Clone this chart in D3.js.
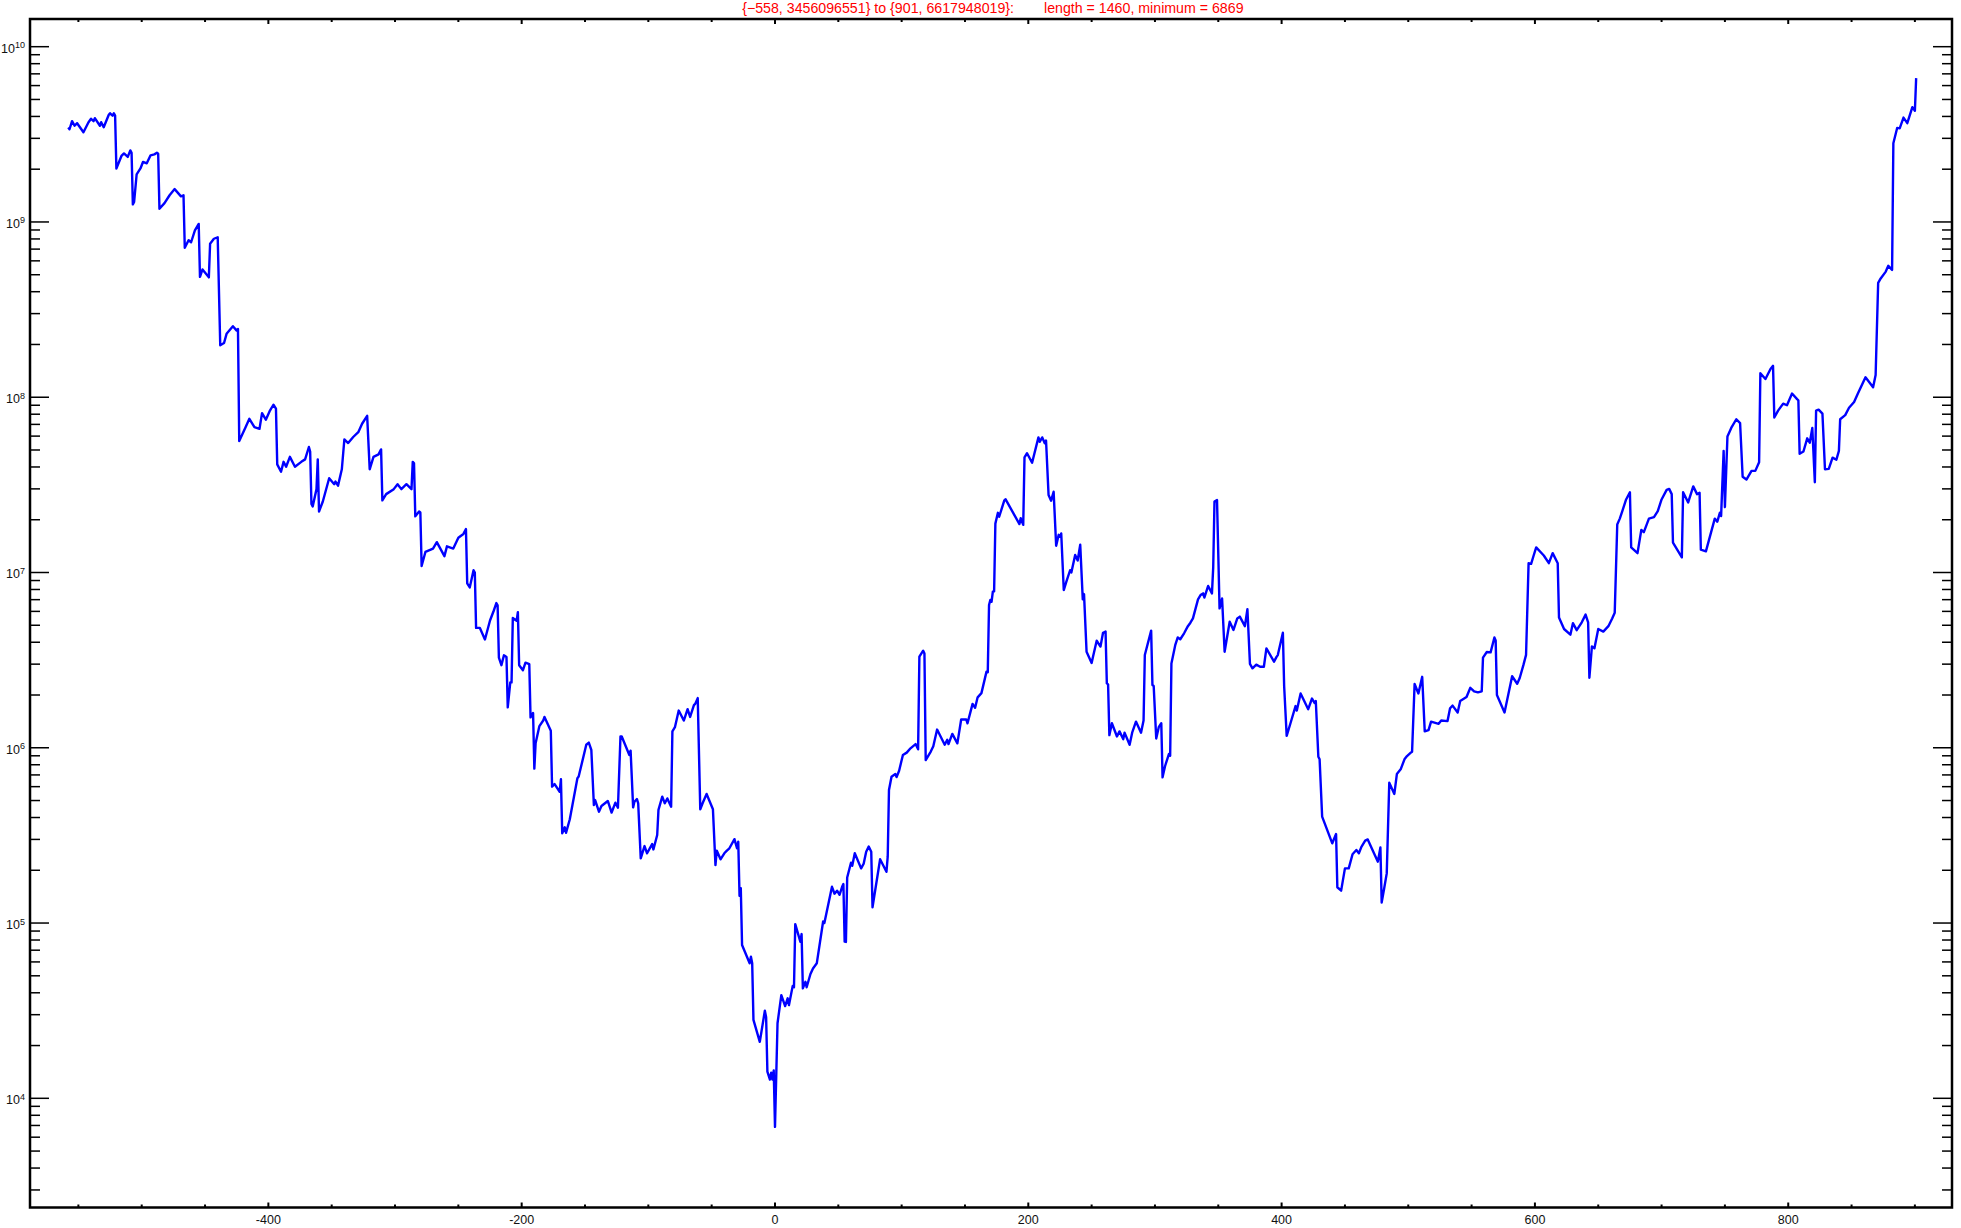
<!DOCTYPE html>
<html>
<head>
<meta charset="utf-8">
<script src="https://cdn.jsdelivr.net/npm/d3@7"></script>
<style>
  html, body { margin: 0; padding: 0; background: #fff; }
  svg { display: block; }
  text { font-family: "Liberation Sans", Arial, sans-serif; }
</style>
</head>
<body>
<script>
// ---- data ----
const indices = [
-558,-557,-555,-553,-551,-546,-542,-540,-538,-537,-533,-532,-530,-526,-525,-523,-522,-521,-520,-516,-514,-511,-509,-508,-507,-506,-504,-501,-499,-496,-493,-490,-488,-487,-486,-482,-478,-474,-469,-467,-466,-463,-461,-458,-455,-454,-452,-447,-446,-443,-440,-438,-435,-433,-428,-425,-424,-423,-418,-415,-411,-407,-405,-402,-399,-396,-394,-393,-390,-388,-386,-383,-379,-374,-371,-368,-367,-366,-365,-362,-361,-360,-357,-352,-348,-347,-345,-342,-340,-337,-333,-329,-326,-322,-320,-317,-313,-311,-310,-307,-301,-298,-295,-291,-287,-286,-285,-284,-281,-280,-279,-276,-270,-267,-261,-259,-254,-250,-246,-244,-243,-241,-238,-237,-236,-233,-229,-225,-222,-220,-219,-218,-216,-214,-212,-211,-209,-208,-207,-204,-203,-202,-199,-197,-194,-193,-191,-190,-189,-186,-183,-182,-177,-176,-174,-170,-169,-168,-166,-165,-162,-156,-155,-149,-147,-145,-143,-142,-139,-137,-132,-129,-126,-124,-122,-121,-115,-114,-112,-111,-109,-108,-106,-103,-101,-97,-96,-93,-92,-89,-87,-85,-82,-81,-79,-76,-72,-69,-67,-64,-63,-61,-59,-57,-54,-49,-47,-46,-43,-40,-38,-36,-32,-30,-29,-28,-27,-26,-20,-19,-18,-17,-12,-8,-7,-6,-4,-3,-2,-1,0,2,5,8,10,11,14,15,16,20,21,22,24,25,28,30,33,38,39,44,45,47,49,51,53,54,55,56,57,60,61,63,68,70,72,74,76,77,83,88,89,90,92,95,96,98,101,104,107,111,113,114,117,118,119,123,125,128,134,136,137,140,144,147,151,152,156,158,160,163,167,168,169,170,171,172,173,174,176,177,181,182,193,194,196,197,199,203,208,209,211,213,214,216,218,220,222,224,225,226,228,230,233,234,237,239,241,243,244,246,250,251,254,257,259,261,262,263,264,266,270,272,275,276,280,282,285,289,291,292,297,298,299,301,303,305,306,308,311,312,313,316,318,320,323,326,328,330,334,336,338,339,342,345,346,347,349,351,353,355,359,362,365,367,371,373,375,377,380,383,386,388,394,396,397,401,402,404,407,411,412,415,421,424,426,427,429,430,432,440,443,444,447,450,453,456,459,461,463,466,468,476,478,479,481,483,485,489,491,494,497,499,502,503,505,508,511,513,516,518,524,526,531,533,535,539,541,546,549,552,555,558,559,562,565,568,569,570,576,582,586,588,591,593,595,597,599,601,607,611,614,618,619,623,628,630,633,637,640,642,643,645,647,650,654,658,661,663,665,667,669,672,675,676,681,684,686,690,694,697,700,704,706,708,709,716,717,721,725,728,730,731,735,742,744,746,747,749,750,752,755,759,762,764,767,771,774,777,778,782,786,788,789,792,796,799,803,807,808,809,812,815,817,819,821,822,824,827,829,832,835,838,840,841,845,848,852,855,861,867,869,871,873,877,879,882,883,886,888,891,894,898,900,901
];
const values = [
3456096551,3.38e9,3.76e9,3.54e9,3.66e9,3.25e9,3.71e9,3.88e9,3.76e9,3.91e9,3.54e9,3.71e9,3.47e9,4.09e9,4.17e9,4.04e9,4.17e9,4.04e9,2.02e9,2.38e9,2.46e9,2.35e9,2.56e9,2.48e9,1.26e9,1.30e9,1.87e9,2.02e9,2.20e9,2.16e9,2.40e9,2.43e9,2.48e9,2.45e9,1.19e9,1.28e9,1.42e9,1.54e9,1.40e9,1.42e9,7.13e8,7.87e8,7.66e8,8.96e8,9.75e8,4.86e8,5.36e8,4.83e8,7.52e8,8.02e8,8.18e8,1.98e8,2.04e8,2.30e8,2.54e8,2.40e8,2.45e8,5.62e7,6.75e7,7.53e7,6.75e7,6.6e7,8.11e7,7.45e7,8.32e7,9.06e7,8.6e7,4.14e7,3.76e7,4.28e7,4.01e7,4.57e7,4.01e7,4.28e7,4.42e7,5.20e7,4.9e7,2.46e7,2.38e7,2.99e7,4.42e7,2.23e7,2.54e7,3.45e7,3.19e7,3.3e7,3.13e7,3.88e7,5.74e7,5.48e7,5.93e7,6.32e7,7.06e7,7.83e7,3.88e7,4.57e7,4.72e7,5.04e7,2.58e7,2.80e7,2.99e7,3.19e7,2.99e7,3.19e7,2.99e7,4.28e7,4.2e7,2.09e7,2.23e7,2.2e7,1.09e7,1.31e7,1.37e7,1.49e7,1.24e7,1.41e7,1.37e7,1.58e7,1.66e7,1.77e7,8.67e6,8.22e6,1.03e7,1.0e7,4.83e6,4.83e6,4.15e6,5.32e6,6.07e6,6.69e6,6.5e6,3.27e6,2.96e6,3.37e6,3.3e6,1.70e6,2.36e6,2.36e6,5.50e6,5.3e6,5.94e6,2.96e6,2.77e6,3.06e6,3.0e6,1.49e6,1.58e6,7.6e5,1.06e6,1.33e6,1.43e6,1.50e6,1.25e6,6.0e5,6.21e5,5.61e5,6.61e5,3.25e5,3.52e5,3.27e5,3.91e5,6.70e5,6.85e5,1.04e6,1.07e6,9.71e5,4.71e5,5.03e5,4.32e5,4.65e5,4.97e5,4.27e5,4.86e5,4.55e5,1.16e6,1.16e6,9.10e5,9.63e5,4.57e5,4.92e5,5.10e5,4.82e5,2.34e5,2.75e5,2.50e5,2.82e5,2.63e5,3.18e5,4.42e5,5.26e5,4.82e5,5.14e5,4.61e5,1.24e6,1.31e6,1.63e6,1.43e6,1.66e6,1.50e6,1.75e6,1.78e6,1.92e6,4.46e5,4.86e5,5.45e5,4.46e5,2.14e5,2.59e5,2.31e5,2.50e5,2.59e5,2.67e5,3.01e5,2.67e5,2.91e5,1.43e5,1.58e5,7.5e4,5.89e4,6.43e4,5.9e4,2.80e4,2.10e4,3.16e4,2.9e4,1.42e4,1.28e4,1.40e4,1.28e4,1.44e4,6869,2.68e4,3.88e4,3.36e4,3.72e4,3.4e4,4.38e4,4.3e4,9.86e4,7.83e4,8.65e4,4.24e4,4.62e4,4.3e4,5.12e4,5.51e4,5.89e4,1.02e5,1.0e5,1.49e5,1.61e5,1.47e5,1.53e5,1.45e5,1.61e5,1.67e5,7.83e4,7.8e4,1.82e5,2.21e5,2.12e5,2.50e5,2.05e5,2.18e5,2.55e5,2.73e5,2.55e5,1.23e5,2.31e5,1.96e5,2.39e5,5.74e5,6.84e5,7.08e5,6.8e5,7.40e5,9.10e5,9.38e5,9.93e5,1.05e6,9.80e5,3.31e6,3.58e6,3.45e6,8.51e5,9.51e5,1.02e6,1.27e6,1.04e6,1.11e6,1.05e6,1.20e6,1.06e6,1.45e6,1.45e6,1.38e6,1.78e6,1.69e6,1.94e6,2.05e6,2.72e6,2.7e6,6.52e6,6.97e6,6.8e6,7.77e6,7.8e6,1.90e7,2.19e7,2.08e7,2.57e7,2.62e7,1.89e7,2.04e7,1.87e7,4.54e7,4.79e7,4.23e7,5.90e7,5.57e7,5.90e7,5.46e7,5.66e7,2.77e7,2.57e7,2.89e7,1.42e7,1.64e7,1.6e7,1.67e7,7.94e6,8.85e6,1.03e7,1.0e7,1.26e7,1.17e7,1.44e7,7.03e6,7.53e6,3.53e6,3.05e6,3.28e6,4.08e6,3.78e6,4.53e6,4.6e6,2.33e6,2.3e6,1.18e6,1.38e6,1.16e6,1.24e6,1.12e6,1.22e6,1.04e6,1.22e6,1.41e6,1.22e6,1.43e6,3.38e6,4.66e6,2.28e6,2.25e6,1.13e6,1.31e6,1.38e6,6.78e5,7.87e5,9.21e5,9.0e5,3.03e6,3.85e6,4.26e6,4.16e6,4.50e6,4.94e6,5.17e6,5.47e6,7.03e6,7.43e6,7.6e6,7.2e6,8.38e6,7.6e6,1.07e7,2.54e7,2.59e7,6.24e6,7.11e6,3.53e6,5.24e6,4.70e6,5.47e6,5.6e6,4.94e6,6.17e6,3.01e6,2.84e6,2.98e6,2.9e6,2.9e6,3.69e6,3.10e6,3.3e6,3.38e6,4.53e6,2.25e6,1.17e6,1.38e6,1.73e6,1.63e6,2.04e6,1.66e6,1.91e6,1.80e6,1.85e6,8.89e5,8.6e5,4.05e5,2.85e5,3.22e5,1.60e5,1.53e5,2.05e5,2.05e5,2.47e5,2.61e5,2.5e5,2.72e5,2.95e5,3.0e5,2.24e5,2.70e5,1.31e5,1.58e5,1.92e5,6.32e5,5.45e5,7.08e5,7.53e5,8.59e5,8.97e5,9.38e5,9.5e5,2.31e6,2.04e6,2.54e6,1.24e6,1.26e6,1.41e6,1.37e6,1.43e6,1.42e6,1.68e6,1.74e6,1.59e6,1.85e6,1.95e6,2.20e6,2.1e6,2.07e6,2.1e6,3.27e6,3.52e6,3.5e6,4.26e6,4.1e6,2.0e6,1.59e6,2.56e6,2.32e6,2.5e6,2.98e6,3.39e6,1.13e7,1.12e7,1.25e7,1.39e7,1.25e7,1.13e7,1.29e7,1.13e7,5.53e6,4.76e6,4.42e6,5.14e6,4.69e6,5.2e6,5.75e6,5.2e6,2.51e6,3.79e6,3.7e6,4.76e6,4.6e6,4.94e6,5.46e6,5.89e6,1.88e7,2.03e7,2.24e7,2.61e7,2.87e7,1.39e7,1.29e7,1.75e7,1.7e7,2.03e7,2.07e7,2.24e7,2.61e7,2.96e7,3.0e7,2.8e7,1.48e7,1.22e7,2.87e7,2.51e7,3.10e7,2.8e7,2.85e7,1.35e7,1.32e7,2.03e7,1.95e7,2.19e7,2.1e7,4.94e7,2.36e7,5.97e7,6.68e7,7.49e7,7.11e7,3.52e7,3.39e7,3.80e7,3.8e7,4.26e7,1.37e8,1.27e8,1.45e8,1.51e8,7.66e7,8.39e7,9.19e7,9.0e7,1.05e8,9.75e7,9.6e7,4.76e7,4.9e7,5.83e7,5.5e7,6.68e7,3.27e7,8.39e7,8.5e7,8.07e7,3.88e7,3.9e7,4.52e7,4.4e7,4.94e7,7.49e7,7.91e7,8.71e7,9.40e7,1.05e8,1.30e8,1.14e8,1.34e8,4.49e8,4.76e8,5.21e8,5.62e8,5.33e8,2.81e9,3.44e9,3.42e9,3.94e9,3.66e9,4.52e9,4.31e9,6617948019
];
const xTickValues = [-400, -200, 0, 200, 400, 600, 800];
const xMinorTickValues = [-550, -500, -450, -350, -300, -250, -150, -100, -50, 50, 100, 150, 250, 300, 350, 450, 500, 550, 650, 700, 750, 850, 900];
const yExponents = [4, 5, 6, 7, 8, 9, 10];

// ---- layout ----
const W = 1961, H = 1228;
const L = 30, R = 1952, T = 19, B = 1207.5;

const svg = d3.select("body").append("svg")
  .attr("width", W).attr("height", H).attr("viewBox", `0 0 ${W} ${H}`);
svg.append("rect").attr("width", W).attr("height", H).attr("fill", "#fff");

const x = d3.scaleLinear().domain([-588.2, 929.3]).range([L, R]);
const y = d3.scaleLog().domain([Math.pow(10, 3.377), Math.pow(10, 10.158)]).range([B, T]);

const data = indices.map((d, i) => ({ x: d, v: values[i] }));

svg.append("clipPath").attr("id", "clip").append("rect")
  .attr("x", L).attr("y", T).attr("width", R - L).attr("height", B - T);

const line = d3.line().x(d => x(d.x)).y(d => y(d.v));
svg.append("path").datum(data)
  .attr("clip-path", "url(#clip)")
  .attr("d", line)
  .attr("fill", "none")
  .attr("stroke", "#0000ff")
  .attr("stroke-width", 2.4)
  .attr("stroke-linejoin", "round");

// y ticks (log, majors + minors)
const yTicks = [];
for (let k = 3; k <= 10; k++) {
  for (let m = 1; m <= 9; m++) {
    const v = m * Math.pow(10, k);
    if (v >= y.domain()[0] && v <= y.domain()[1]) yTicks.push({ v, major: m === 1 });
  }
}
const tg = svg.append("g").attr("stroke", "#000").attr("stroke-width", 1.5);
yTicks.forEach(t => {
  const yy = y(t.v);
  const len = t.major ? 19 : 10;
  tg.append("line").attr("x1", L).attr("x2", L + len).attr("y1", yy).attr("y2", yy);
  tg.append("line").attr("x1", R).attr("x2", R - len).attr("y1", yy).attr("y2", yy);
});

xTickValues.forEach(v => {
  const xx = x(v);
  tg.append("line").attr("x1", xx).attr("x2", xx).attr("y1", B).attr("y2", B - 5).attr("stroke-width", 2);
  tg.append("line").attr("x1", xx).attr("x2", xx).attr("y1", T).attr("y2", T + 5).attr("stroke-width", 2);
});
xMinorTickValues.forEach(v => {
  const xx = x(v);
  tg.append("line").attr("x1", xx).attr("x2", xx).attr("y1", B).attr("y2", B - 3).attr("stroke-width", 2);
  tg.append("line").attr("x1", xx).attr("x2", xx).attr("y1", T).attr("y2", T + 3).attr("stroke-width", 2);
});

svg.append("rect")
  .attr("x", L).attr("y", T).attr("width", R - L).attr("height", B - T)
  .attr("fill", "none").attr("stroke", "#000").attr("stroke-width", 2.5);

// y labels: 10^k
yExponents.forEach(k => {
  const yy = y(Math.pow(10, k));
  const t = svg.append("text")
    .attr("x", 25).attr("y", yy + 6)
    .attr("text-anchor", "end")
    .attr("font-size", 12.5).attr("fill", "#111");
  t.append("tspan").text("10");
  t.append("tspan").attr("dy", -4.5).attr("font-size", 9).text(String(k));
});

// x labels
xTickValues.forEach(v => {
  svg.append("text")
    .attr("x", x(v)).attr("y", 1224)
    .attr("text-anchor", "middle")
    .attr("font-size", 12.5).attr("fill", "#111")
    .text(v < 0 ? "-" + Math.abs(v) : String(v));
});

// title, built from the data
const first = data[0], last = data[data.length - 1];
const len = last.x - first.x + 1;
const minV = d3.min(values);
const fmt = n => (n < 0 ? "\u2212" + Math.abs(n) : String(n));
svg.append("text")
  .attr("x", 1014).attr("y", 12.5)
  .attr("text-anchor", "end")
  .attr("font-size", 14.2).attr("fill", "#ff0000")
  .text(`{${fmt(first.x)}, ${first.v}} to {${fmt(last.x)}, ${last.v}}:`);
svg.append("text")
  .attr("x", 1044).attr("y", 12.5)
  .attr("text-anchor", "start")
  .attr("font-size", 14.2).attr("fill", "#ff0000")
  .text(`length = ${len}, minimum = ${minV}`);
</script>
</body>
</html>
